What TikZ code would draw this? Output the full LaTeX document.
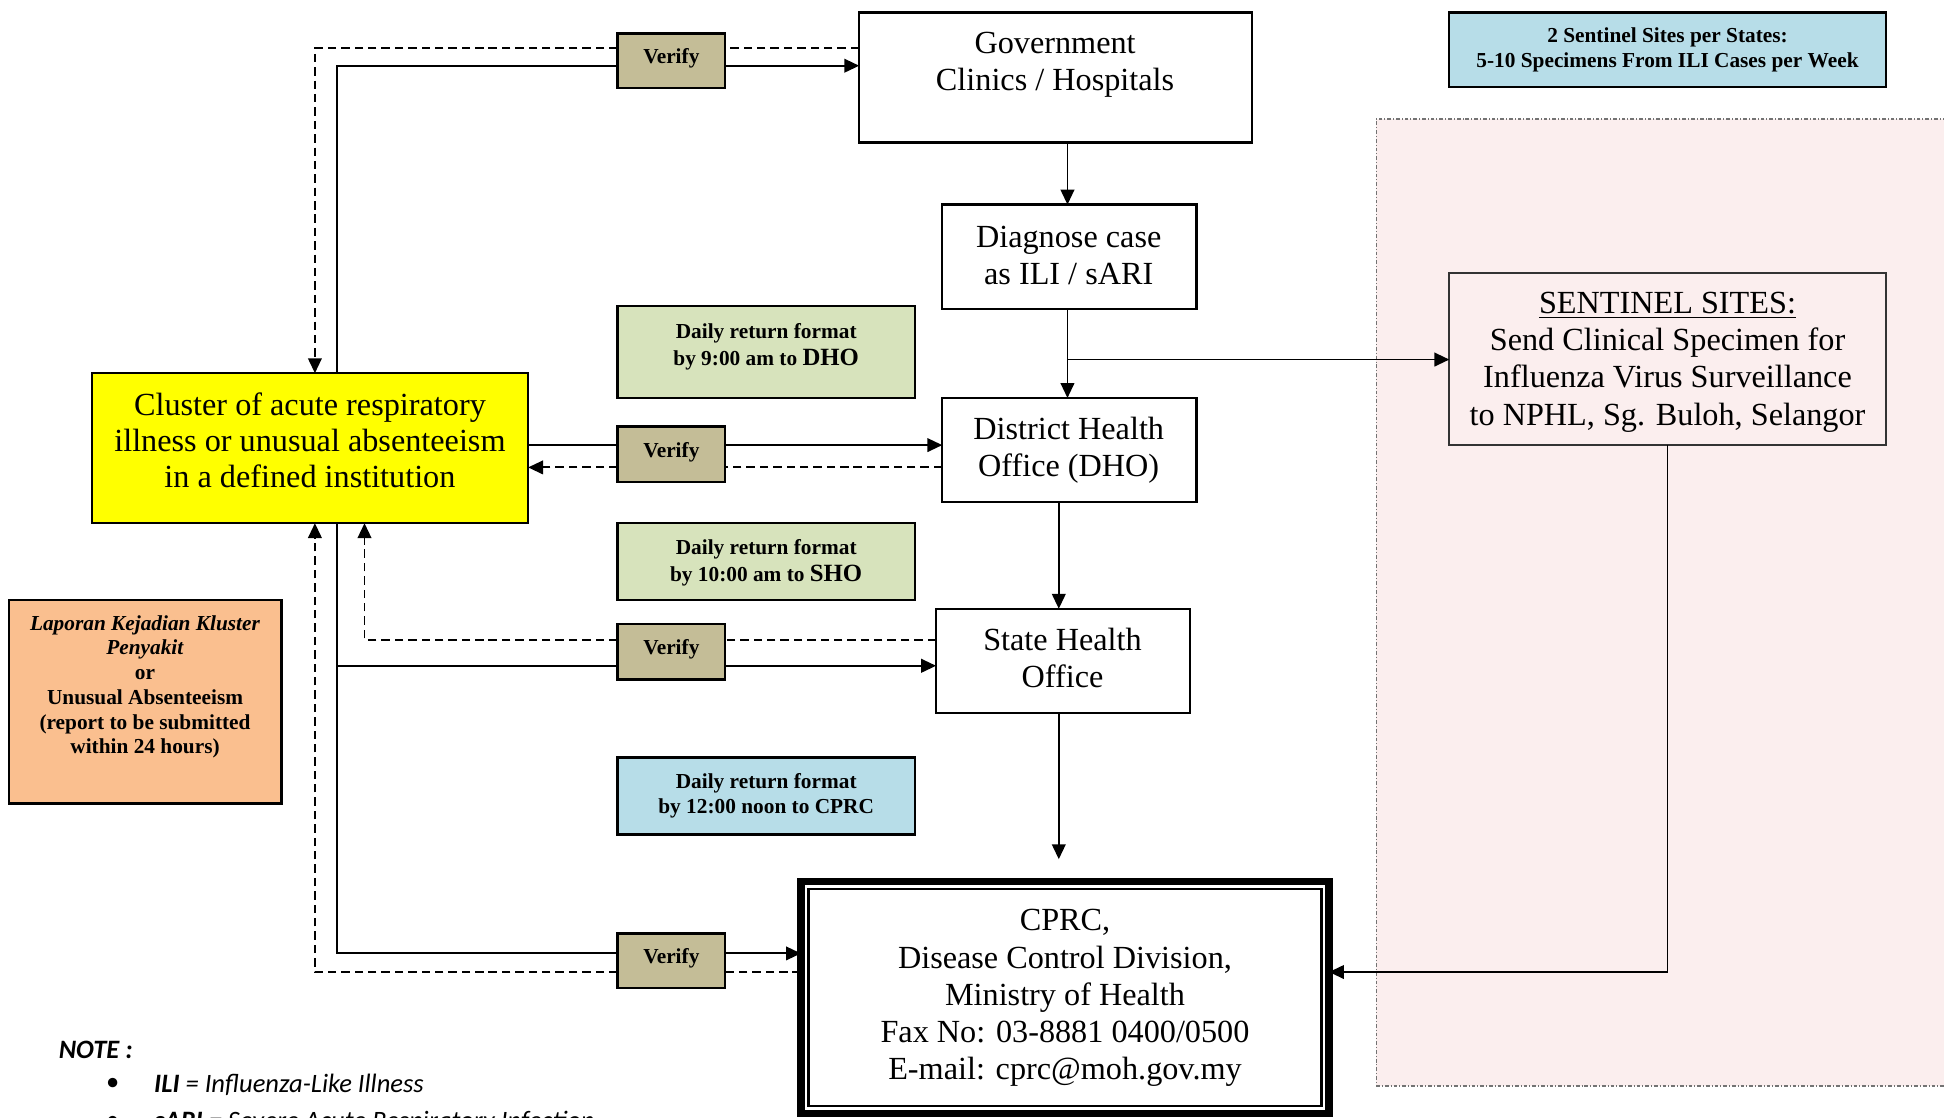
\documentclass[tikz,border=0pt]{standalone}
\usepackage{fontspec}
\setmainfont{Liberation Serif}
\newfontfamily\calfont{Carlito}
\usetikzlibrary{arrows.meta,fit}
\definecolor{vfill}{RGB}{196,189,151}
\definecolor{gfill}{RGB}{215,227,188}
\definecolor{bfill}{RGB}{183,221,232}
\definecolor{ofill}{RGB}{250,191,143}
\definecolor{yfill}{RGB}{255,255,0}
\definecolor{pfill}{RGB}{251,238,238}
\begin{document}
\begin{tikzpicture}[x=0.5pt,y=-0.5pt,
  box/.style={draw, line width=0.9pt, inner sep=0pt, outer sep=0pt},
  txt/.style={align=center, inner sep=0pt, font=\fontsize{13}{15}\selectfont},
  small/.style={align=center, inner sep=0pt, font=\fontsize{8.6}{10}\selectfont\bfseries},
  conn/.style={line width=0.75pt},
  dconn/.style={line width=0.75pt, dash pattern=on 3.4pt off 2pt},
  >={Triangle[length=6pt,width=5.5pt]}]
\useasboundingbox (0,0) rectangle (1568,901);

% pink region
\node[fit={(1110,96) (1580,876)}, inner sep=0pt, outer sep=0pt, fill=pfill, draw=black!55, line width=0.5pt,
      dash pattern=on 1.5pt off 0.8pt on 0.4pt off 0.8pt] (pink) {};

% boxes
\node[box, fit={(693,10) (1010,115)}] (gov) {};
\node[txt] (govT) at (851,52) {Government\\Clinics / Hospitals};

\node[box, fit={(760,165) (965,249)}] (diag) {};
\node[txt] (diagT) at (862,206) {Diagnose case\\as ILI / sARI};

\node[box, fit={(760,321) (965,405)}] (dho) {};
\node[txt] (dhoT) at (862,363) {District Health\\Office (DHO)};

\node[box, fit={(755,491) (960,575)}] (sho) {};
\node[txt] (shoT) at (857,531) {State Health\\Office};

\node[box, fit={(646,711) (1072,898)}, line width=3pt] (cprc) {};
\node[box, fit={(652,717) (1066,892)}, line width=1.1pt] (cprcin) {};
\node[txt] (cprcT) at (859,805) {CPRC,\\Disease Control Division,\\Ministry of Health\\Fax No: 03-8881 0400/0500\\E-mail: cprc@moh.gov.my};

\node[box, fit={(74,301) (426,422)}, fill=yfill] (clu) {};
\node[txt, font=\fontsize{13}{14.6}\selectfont] (cluT) at (250,355) {Cluster of acute respiratory\\illness or unusual absenteeism\\in a defined institution};

\node[box, fit={(7,484) (227,648)}, fill=ofill] (lap) {};
\node[small] (lapT) at (117,554) {\textit{Laporan Kejadian Kluster}\\\textit{Penyakit}\\or\\Unusual Absenteeism\\(report to be submitted\\within 24 hours)};

\node[box, fit={(498,247) (738,321)}, fill=gfill] (g1) {};
\node[small, font=\fontsize{8.6}{11}\selectfont\bfseries] (g1T) at (618,280) {Daily return format\\by 9:00 am to {\fontsize{10}{11}\selectfont DHO}};

\node[box, fit={(498,422) (738,484)}, fill=gfill] (g2) {};
\node[small, font=\fontsize{8.6}{11}\selectfont\bfseries] (g2T) at (618,454) {Daily return format\\by 10:00 am to {\fontsize{10}{11}\selectfont SHO}};

\node[box, fit={(498,611) (738,673)}, fill=bfill] (b1) {};
\node[small] (b1T) at (618,642) {Daily return format\\by 12:00 noon to CPRC};

\node[box, fit={(1169,10) (1521,70)}, fill=bfill] (tb) {};
\node[small] (tbT) at (1345,40) {2 Sentinel Sites per States:\\5-10 Specimens From ILI Cases per Week};

\node[box, fit={(1169,220) (1521,359)}, fill=pfill, draw=black!80] (sent) {};
\node[txt] (sentT) at (1345,292) {\underline{SENTINEL SITES:}\\Send Clinical Specimen for\\Influenza Virus Surveillance\\to NPHL, Sg. Buloh, Selangor};

\node[box, fit={(498,27) (585,71)}, fill=vfill] (v1) {};
\node[box, fit={(498,344) (585,389)}, fill=vfill] (v2) {};
\node[box, fit={(498,503) (585,548)}, fill=vfill] (v3) {};
\node[box, fit={(498,753) (585,797)}, fill=vfill] (v4) {};
\node[small] (v1T) at (541.5,47) {Verify};
\node[small] (v2T) at (541.5,365) {Verify};
\node[small] (v3T) at (541.5,524) {Verify};
\node[small] (v4T) at (541.5,773) {Verify};

% helper coordinates
\coordinate (xs) at (272,0);
\coordinate (xd) at (254,0);
\coordinate (xd2) at (294,0);
\coordinate (xc1) at (861,0);
\coordinate (xc2) at (854,0);
\coordinate (ys1) at (0,53);
\coordinate (yd1) at (0,39);
\coordinate (ys2) at (0,359);
\coordinate (yd2) at (0,377);
\coordinate (ys3) at (0,537);
\coordinate (yd3) at (0,516);
\coordinate (ys4) at (0,769);
\coordinate (yd4) at (0,784);
\coordinate (br) at (861,290);
\coordinate (endp) at (854,693);

% top loop
\draw[conn] (clu.north -| xs) |- (v1.west |- ys1);
\draw[conn,->] (v1.east |- ys1) -- (gov.west |- ys1);
\draw[dconn] (gov.west |- yd1) -- (v1.east |- yd1);
\draw[dconn,->] (v1.west |- yd1) -| (clu.north -| xd);

% main vertical chain
\draw[conn,->] (gov.south -| xc1) -- (diag.north -| xc1);
\draw[conn,->] (diag.south -| xc1) -- (dho.north -| xc1);
\draw[conn,->] (br) -- (sent.west |- br);
\draw[conn,->] (dho.south -| xc2) -- (sho.north -| xc2);
\draw[conn,->] (sho.south -| xc2) -- (endp);

% DHO
\draw[conn] (clu.east |- ys2) -- (v2.west |- ys2);
\draw[conn,->] (v2.east |- ys2) -- (dho.west |- ys2);
\draw[dconn] (dho.west |- yd2) -- (v2.east |- yd2);
\draw[dconn,->] (v2.west |- yd2) -- (clu.east |- yd2);

% lower solid
\draw[conn] (clu.south -| xs) |- (v4.west |- ys4);
\draw[conn,->] (v4.east |- ys4) -- (cprc.west |- ys4);
\draw[conn] (xs |- ys3) -- (v3.west |- ys3);
\draw[conn,->] (v3.east |- ys3) -- (sho.west |- ys3);

% lower dashed
\draw[dconn] (cprc.west |- yd4) -- (v4.east |- yd4);
\draw[dconn,->] (v4.west |- yd4) -| (clu.south -| xd);
\draw[dconn] (sho.west |- yd3) -- (v3.east |- yd3);
\draw[dconn,->] (v3.west |- yd3) -| (clu.south -| xd2);

% sentinel to CPRC
\draw[conn,->] (sent.south) |- (cprc.east |- yd4);

% note
\node[anchor=west, inner sep=0pt, font=\calfont\fontsize{10.7}{12}\selectfont\bfseries\itshape] (note) at (47,847) {NOTE :};
\node[inner sep=0pt, font=\calfont\fontsize{10.7}{12}\selectfont] (bul1) at (91,875) {•};
\node[anchor=west, inner sep=0pt, font=\calfont\fontsize{10.7}{12}\selectfont\itshape] (n1) at (124,875) {\textbf{ILI} = Influenza-Like Illness};
\node[inner sep=0pt, font=\calfont\fontsize{10.7}{12}\selectfont] (bul2) at (91,905) {•};
\node[anchor=west, inner sep=0pt, font=\calfont\fontsize{10.7}{12}\selectfont\itshape] (n2) at (124,905) {\textbf{sARI} = Severe Acute Respiratory Infection};
\end{tikzpicture}
\end{document}
